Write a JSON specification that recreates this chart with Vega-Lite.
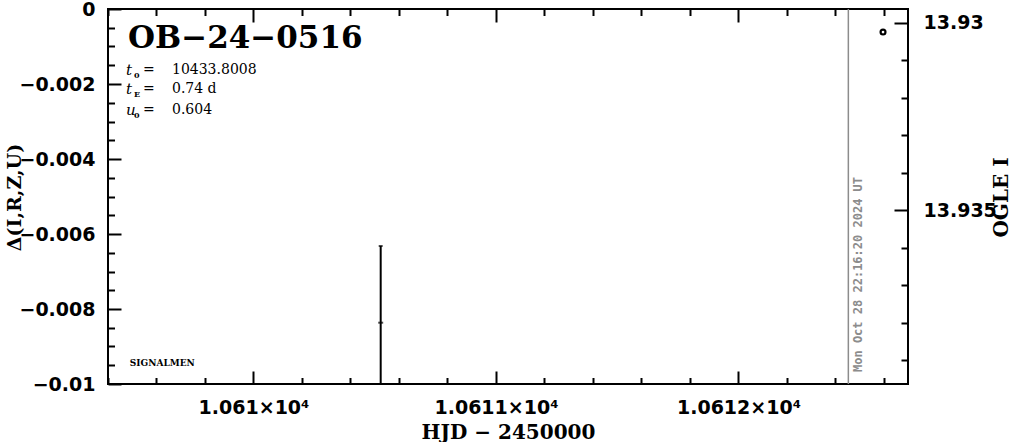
{
  "$schema": "https://vega.github.io/schema/vega-lite/v6.json",
  "width": 800,
  "height": 375,
  "autosize": {"type": "none"},
  "padding": {"left": 108, "top": 9, "right": 103, "bottom": 58},
  "background": "white",
  "config": {
    "view": {"stroke": "black", "strokeWidth": 2},
    "axis": {"domain": false, "grid": false, "tickColor": "black", "tickWidth": 2, "labelColor": "black", "titleColor": "black", "labelOverlap": false, "labelFlush": false}
  },
  "datasets": {
    "errbar": [{"hjd": 10610.5245, "delta": -0.008365, "lo": -0.01041, "hi": -0.00632}],
    "ogle": [{"hjd": 10612.596, "mag": 13.93025}],
    "now": [{"hjd": 10612.453, "delta": -0.00968, "label": "Mon Oct 28 22:16:20 2024 UT"}],
    "params": [
      {"hjd": 10609.4742, "delta": -0.00162, "sym": "t", "sub": "0", "val": "10433.8008"},
      {"hjd": 10609.4742, "delta": -0.00214, "sym": "t", "sub": "E", "val": "0.74 d"},
      {"hjd": 10609.4742, "delta": -0.00268, "sym": "u", "sub": "0", "val": "0.604"}
    ],
    "name": [{"hjd": 10609.4825, "delta": -0.0008, "text": "OB−24−0516"}],
    "tag": [{"hjd": 10609.49, "delta": -0.00944, "text": "SIGNALMEN"}]
  },
  "layer": [
    {
      "data": {"name": "errbar"},
      "mark": {"type": "rule", "color": "black", "strokeWidth": 2, "clip": true},
      "encoding": {
        "x": {
          "field": "hjd", "type": "quantitative",
          "scale": {"domain": [10609.4, 10612.699], "nice": false, "zero": false},
          "axis": {
            "orient": "bottom",
            "values": [10609.4, 10609.6, 10609.8, 10610, 10610.2, 10610.4, 10610.6, 10610.8, 10611, 10611.2, 10611.4, 10611.6, 10611.8, 10612, 10612.2, 10612.4, 10612.6],
            "tickSize": {"condition": {"test": "abs(datum.value - round(datum.value)) < 1e-6", "value": -13}, "value": -6.5},
            "labelExpr": "abs(datum.value - round(datum.value)) < 1e-6 ? format(datum.value / 10000, '.4~f') + '×10⁴' : ''",
            "labelFont": "DejaVu Sans", "labelFontWeight": "bold", "labelFontSize": 19, "labelPadding": 27,
            "title": "HJD − 2450000", "titleFont": "DejaVu Serif", "titleFontWeight": "bold", "titleFontSize": 20,
            "titleY": 54, "titleBaseline": "alphabetic"
          }
        },
        "y": {
          "field": "lo", "type": "quantitative",
          "scale": {"domain": [-0.01, 0], "nice": false, "zero": false},
          "axis": {
            "orient": "left",
            "values": [0, -0.0005, -0.001, -0.0015, -0.002, -0.0025, -0.003, -0.0035, -0.004, -0.0045, -0.005, -0.0055, -0.006, -0.0065, -0.007, -0.0075, -0.008, -0.0085, -0.009, -0.0095, -0.01],
            "tickSize": {"condition": {"test": "abs(datum.value / 0.002 - round(datum.value / 0.002)) < 1e-6", "value": -13}, "value": -6.5},
            "labelExpr": "abs(datum.value / 0.002 - round(datum.value / 0.002)) < 1e-6 ? format(datum.value, '~g') : ''",
            "labelFont": "DejaVu Sans", "labelFontWeight": "bold", "labelFontSize": 19, "labelPadding": 26,
            "title": "Δ(I,R,Z,U)", "titleFont": "DejaVu Serif", "titleFontWeight": "bold", "titleFontSize": 19,
            "titleAngle": 270, "titleX": -88, "titleY": 188, "titleBaseline": "alphabetic", "titleAlign": "center"
          }
        },
        "y2": {"field": "hi"}
      }
    },
    {
      "data": {"name": "errbar"},
      "mark": {"type": "tick", "orient": "horizontal", "color": "black", "size": 5, "thickness": 2},
      "encoding": {
        "x": {"field": "hjd", "type": "quantitative", "scale": {"domain": [10609.4, 10612.699], "nice": false, "zero": false}, "axis": null},
        "y": {"field": "delta", "type": "quantitative", "scale": {"domain": [-0.01, 0], "nice": false, "zero": false}, "axis": null}
      }
    },
    {
      "data": {"name": "errbar"},
      "mark": {"type": "tick", "orient": "horizontal", "color": "black", "size": 4, "thickness": 2},
      "encoding": {
        "x": {"field": "hjd", "type": "quantitative", "scale": {"domain": [10609.4, 10612.699], "nice": false, "zero": false}, "axis": null},
        "y": {"field": "hi", "type": "quantitative", "scale": {"domain": [-0.01, 0], "nice": false, "zero": false}, "axis": null}
      }
    },
    {
      "data": {"name": "ogle"},
      "mark": {"type": "point", "shape": "circle", "filled": false, "color": "black", "size": 24, "strokeWidth": 2.2, "opacity": 1},
      "encoding": {
        "x": {
          "field": "hjd", "type": "quantitative",
          "scale": {"domain": [10609.4, 10612.699], "nice": false, "zero": false},
          "axis": {
            "orient": "top",
            "values": [10609.4, 10609.6, 10609.8, 10610, 10610.2, 10610.4, 10610.6, 10610.8, 10611, 10611.2, 10611.4, 10611.6, 10611.8, 10612, 10612.2, 10612.4, 10612.6],
            "tickSize": {"condition": {"test": "abs(datum.value - round(datum.value)) < 1e-6", "value": -13}, "value": -6.5},
            "labels": false, "title": null
          }
        },
        "y": {
          "field": "mag", "type": "quantitative",
          "scale": {"domain": [13.929635, 13.939635], "reverse": true, "nice": false, "zero": false},
          "axis": {
            "orient": "right",
            "values": [13.93, 13.931, 13.932, 13.933, 13.934, 13.935, 13.936, 13.937, 13.938, 13.939],
            "tickSize": {"condition": {"test": "abs(datum.value / 0.005 - round(datum.value / 0.005)) < 1e-6", "value": -14}, "value": -7},
            "labelExpr": "abs(datum.value / 0.005 - round(datum.value / 0.005)) < 1e-6 ? format(datum.value, '~g') : ''",
            "labelFont": "DejaVu Sans", "labelFontWeight": "bold", "labelFontSize": 19, "labelPadding": 29,
            "title": "OGLE I", "titleFont": "DejaVu Serif", "titleFontWeight": "bold", "titleFontSize": 20,
            "titleAngle": 270, "titleX": 99, "titleY": 188, "titleBaseline": "alphabetic", "titleAlign": "center"
          }
        }
      }
    },
    {
      "data": {"name": "now"},
      "mark": {"type": "rule", "color": "#8c8c8c", "strokeWidth": 1.5},
      "encoding": {
        "x": {"field": "hjd", "type": "quantitative", "scale": {"domain": [10609.4, 10612.699], "nice": false, "zero": false}, "axis": null}
      }
    },
    {
      "data": {"name": "now"},
      "mark": {"type": "text", "color": "#8c8c8c", "font": "DejaVu Sans Mono", "fontWeight": "bold", "fontSize": 12, "angle": 270, "align": "left", "baseline": "middle", "dy": 10},
      "encoding": {
        "x": {"field": "hjd", "type": "quantitative", "scale": {"domain": [10609.4, 10612.699], "nice": false, "zero": false}, "axis": null},
        "y": {"field": "delta", "type": "quantitative", "scale": {"domain": [-0.01, 0], "nice": false, "zero": false}, "axis": null},
        "text": {"field": "label"}
      }
    },
    {
      "data": {"name": "name"},
      "mark": {"type": "text", "color": "black", "font": "DejaVu Serif", "fontWeight": "bold", "fontSize": 31, "align": "left", "baseline": "middle"},
      "encoding": {
        "x": {"field": "hjd", "type": "quantitative", "scale": {"domain": [10609.4, 10612.699], "nice": false, "zero": false}, "axis": null},
        "y": {"field": "delta", "type": "quantitative", "scale": {"domain": [-0.01, 0], "nice": false, "zero": false}, "axis": null},
        "text": {"field": "text"}
      }
    },
    {
      "data": {"name": "tag"},
      "mark": {"type": "text", "color": "black", "font": "DejaVu Serif", "fontWeight": "bold", "fontSize": 9, "align": "left", "baseline": "middle"},
      "encoding": {
        "x": {"field": "hjd", "type": "quantitative", "scale": {"domain": [10609.4, 10612.699], "nice": false, "zero": false}, "axis": null},
        "y": {"field": "delta", "type": "quantitative", "scale": {"domain": [-0.01, 0], "nice": false, "zero": false}, "axis": null},
        "text": {"field": "text"}
      }
    },
    {
      "data": {"name": "params"},
      "mark": {"type": "text", "color": "black", "font": "DejaVu Serif", "fontStyle": "italic", "fontSize": 15, "align": "left", "baseline": "middle"},
      "encoding": {
        "x": {"field": "hjd", "type": "quantitative", "scale": {"domain": [10609.4, 10612.699], "nice": false, "zero": false}, "axis": null},
        "y": {"field": "delta", "type": "quantitative", "scale": {"domain": [-0.01, 0], "nice": false, "zero": false}, "axis": null},
        "text": {"field": "sym"}
      }
    },
    {
      "data": {"name": "params"},
      "mark": {"type": "text", "color": "black", "font": "DejaVu Serif", "fontWeight": "bold", "fontSize": 8, "align": "left", "baseline": "middle", "dx": 8, "dy": 6},
      "encoding": {
        "x": {"field": "hjd", "type": "quantitative", "scale": {"domain": [10609.4, 10612.699], "nice": false, "zero": false}, "axis": null},
        "y": {"field": "delta", "type": "quantitative", "scale": {"domain": [-0.01, 0], "nice": false, "zero": false}, "axis": null},
        "text": {"field": "sub"}
      }
    },
    {
      "data": {"name": "params"},
      "mark": {"type": "text", "color": "black", "font": "DejaVu Serif", "fontSize": 14, "align": "left", "baseline": "middle", "dx": 17, "text": "="},
      "encoding": {
        "x": {"field": "hjd", "type": "quantitative", "scale": {"domain": [10609.4, 10612.699], "nice": false, "zero": false}, "axis": null},
        "y": {"field": "delta", "type": "quantitative", "scale": {"domain": [-0.01, 0], "nice": false, "zero": false}, "axis": null}
      }
    },
    {
      "data": {"name": "params"},
      "mark": {"type": "text", "color": "black", "font": "DejaVu Serif", "fontSize": 14, "align": "left", "baseline": "middle", "dx": 46},
      "encoding": {
        "x": {"field": "hjd", "type": "quantitative", "scale": {"domain": [10609.4, 10612.699], "nice": false, "zero": false}, "axis": null},
        "y": {"field": "delta", "type": "quantitative", "scale": {"domain": [-0.01, 0], "nice": false, "zero": false}, "axis": null},
        "text": {"field": "val"}
      }
    }
  ],
  "resolve": {"scale": {"y": "independent"}, "axis": {"x": "independent", "y": "independent"}}
}
